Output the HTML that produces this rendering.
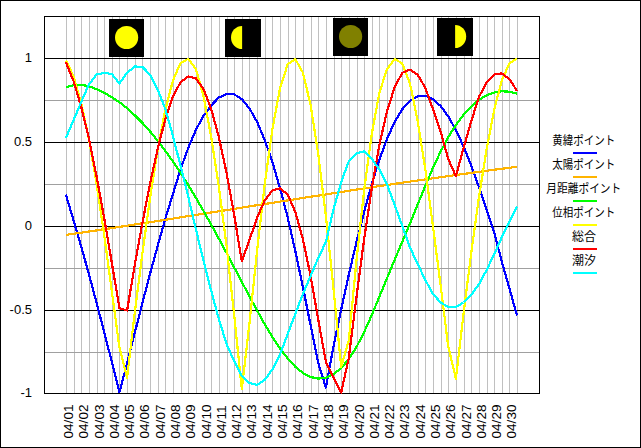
<!DOCTYPE html>
<html><head><meta charset="utf-8"><title>chart</title>
<style>html,body{margin:0;padding:0;background:#fff;}svg{display:block;}</style></head>
<body>
<svg width="641" height="448" viewBox="0 0 641 448">
<rect x="0" y="0" width="641" height="448" fill="#fff"/>
<path d="M66.5 17V393M74.5 17V393M81.5 17V393M89.5 17V393M97.5 17V393M104.5 17V393M112.5 17V393M119.5 17V393M127.5 17V393M135.5 17V393M142.5 17V393M150.5 17V393M158.5 17V393M165.5 17V393M173.5 17V393M181.5 17V393M188.5 17V393M196.5 17V393M204.5 17V393M211.5 17V393M219.5 17V393M227.5 17V393M234.5 17V393M242.5 17V393M249.5 17V393M257.5 17V393M265.5 17V393M272.5 17V393M280.5 17V393M288.5 17V393M295.5 17V393M303.5 17V393M311.5 17V393M318.5 17V393M326.5 17V393M334.5 17V393M341.5 17V393M349.5 17V393M357.5 17V393M364.5 17V393M372.5 17V393M379.5 17V393M387.5 17V393M395.5 17V393M402.5 17V393M410.5 17V393M418.5 17V393M425.5 17V393M433.5 17V393M441.5 17V393M448.5 17V393M456.5 17V393M464.5 17V393M471.5 17V393M479.5 17V393M487.5 17V393M494.5 17V393M502.5 17V393M509.5 17V393M517.5 17V393" stroke="#c0c0c0" stroke-width="1" fill="none" shape-rendering="crispEdges"/>
<path d="M45 100.5H539M45 184.5H539M45 268.5H539M45 352.5H539" stroke="#a0a0a0" stroke-width="1" fill="none" shape-rendering="crispEdges"/>
<path d="M45 58.5H539M45 142.5H539M45 226.5H539M45 310.5H539" stroke="#000" stroke-width="1" fill="none" shape-rendering="crispEdges"/>
<rect x="44.5" y="16.5" width="495" height="377" fill="none" stroke="#000" stroke-width="1" shape-rendering="crispEdges"/>
<rect x="109" y="19" width="35" height="38" fill="#000" shape-rendering="crispEdges"/><circle cx="126.6" cy="37.5" r="11.6" fill="#ffff00"/>
<rect x="225" y="19" width="36" height="38" fill="#000" shape-rendering="crispEdges"/><path d="M242.1 25.9A11.1 11.6 0 0 0 242.1 49.1Z" fill="#ffff00"/>
<rect x="333" y="18" width="35" height="38" fill="#000" shape-rendering="crispEdges"/><circle cx="350.6" cy="36.5" r="11.6" fill="#808000"/>
<rect x="437" y="18" width="36" height="38" fill="#000" shape-rendering="crispEdges"/><path d="M455.1 24.9A11.1 11.6 0 0 1 455.1 48.1Z" fill="#ffff00"/>
<polyline points="65.9,194.6 73.6,220.6 81.2,246.6 88.9,274.0 96.5,302.5 104.1,331.8 111.8,361.9 119.4,392.3 127.1,363.5 134.7,333.1 142.4,303.1 150.0,273.9 157.7,245.7 165.3,218.8 173.0,193.7 180.6,169.0 188.3,147.8 195.9,129.8 203.5,115.9 211.2,105.4 218.8,97.6 226.5,93.9 234.1,94.3 241.8,99.1 249.4,108.3 257.1,121.9 264.7,139.9 272.4,162.1 280.0,188.1 287.7,217.5 295.3,251.0 302.9,287.0 310.6,325.3 318.2,362.8 325.9,387.5 333.5,346.3 341.2,309.5 348.8,274.7 356.5,242.0 364.1,212.0 371.8,184.0 379.4,159.5 387.1,138.7 394.7,121.9 402.3,109.2 410.0,100.7 417.6,96.2 425.3,95.7 432.9,99.0 440.6,106.0 448.2,116.4 455.9,129.9 463.5,146.4 471.2,165.4 478.8,186.8 486.4,209.1 494.1,232.3 501.7,261.2 509.4,288.3 517.0,315.6" fill="none" stroke="#0000ff" stroke-width="2.2" stroke-linejoin="round" stroke-linecap="butt" shape-rendering="crispEdges"/>
<polyline points="65.9,234.9 73.6,233.8 81.2,232.7 88.9,231.5 96.5,230.4 104.1,229.2 111.8,228.1 119.4,226.9 127.1,225.7 134.7,224.5 142.4,223.3 150.0,222.2 157.7,221.0 165.3,219.8 173.0,218.6 180.6,217.3 188.3,216.1 195.9,214.9 203.5,213.7 211.2,212.5 218.8,211.3 226.5,210.1 234.1,208.9 241.8,207.6 249.4,206.4 257.1,205.2 264.7,204.0 272.4,202.8 280.0,201.6 287.7,200.4 295.3,199.2 302.9,197.9 310.6,196.7 318.2,195.6 325.9,194.4 333.5,193.2 341.2,192.0 348.8,190.8 356.5,189.6 364.1,188.5 371.8,187.3 379.4,186.1 387.1,185.0 394.7,183.9 402.3,182.7 410.0,181.6 417.6,180.5 425.3,179.4 432.9,178.3 440.6,177.2 448.2,176.1 455.9,175.0 463.5,174.0 471.2,172.9 478.8,171.9 486.4,170.8 494.1,169.8 501.7,168.8 509.4,167.8 517.0,166.8" fill="none" stroke="#ffb400" stroke-width="2.2" stroke-linejoin="round" stroke-linecap="butt" shape-rendering="crispEdges"/>
<polyline points="65.9,87.2 73.6,85.2 81.2,84.7 88.9,86.3 96.5,89.1 104.1,92.8 111.8,97.1 119.4,102.2 127.1,108.3 134.7,115.2 142.4,122.9 150.0,131.4 157.7,140.7 165.3,150.8 173.0,161.5 180.6,173.0 188.3,185.1 195.9,197.8 203.5,211.0 211.2,224.7 218.8,238.6 226.5,252.9 234.1,267.3 241.8,281.8 249.4,296.3 257.1,310.5 264.7,324.2 272.4,336.9 280.0,348.5 287.7,358.5 295.3,366.8 302.9,373.0 310.6,377.0 318.2,378.6 325.9,377.7 333.5,374.3 341.2,368.1 348.8,359.0 356.5,347.0 364.1,332.1 371.8,315.0 379.4,296.6 387.1,278.0 394.7,259.7 402.3,241.6 410.0,223.4 417.6,204.6 425.3,185.9 432.9,168.0 440.6,151.6 448.2,137.2 455.9,125.0 463.5,114.7 471.2,106.4 478.8,100.0 486.4,95.3 494.1,92.5 501.7,91.3 509.4,91.7 517.0,93.7" fill="none" stroke="#00ff00" stroke-width="2.2" stroke-linejoin="round" stroke-linecap="butt" shape-rendering="crispEdges"/>
<polyline points="65.9,60.4 73.6,76.3 81.2,103.2 88.9,138.8 96.5,183.0 104.1,234.4 111.8,291.1 119.4,347.5 127.1,377.6 134.7,313.1 142.4,253.5 150.0,198.3 157.7,149.7 165.3,109.7 173.0,80.3 180.6,62.9 188.3,58.8 195.9,68.9 203.5,96.2 211.2,137.0 218.8,186.5 226.5,245.3 234.1,314.3 241.8,389.2 249.4,323.8 257.1,250.6 264.7,184.4 272.4,129.2 280.0,88.3 287.7,64.3 295.3,59.0 302.9,72.7 310.6,104.9 318.2,153.7 325.9,216.2 333.5,288.6 341.2,366.7 348.8,340.2 356.5,260.4 364.1,190.2 371.8,133.9 379.4,92.5 387.1,69.0 394.7,58.9 402.3,63.5 410.0,83.6 417.6,120.5 425.3,169.1 432.9,225.8 440.6,285.1 448.2,346.2 455.9,378.7 463.5,314.0 471.2,253.2 478.8,198.1 486.4,150.5 494.1,110.2 501.7,80.8 509.4,63.4 517.0,58.5" fill="none" stroke="#ffff00" stroke-width="2.2" stroke-linejoin="round" stroke-linecap="butt" shape-rendering="crispEdges"/>
<polyline points="65.9,62.3 73.6,81.2 81.2,106.8 88.9,138.6 96.5,175.9 104.1,217.6 111.8,262.6 119.4,308.0 127.1,310.5 134.7,265.3 142.4,223.0 150.0,183.7 157.7,148.7 165.3,119.2 173.0,96.5 180.6,82.1 188.3,76.5 195.9,78.4 203.5,89.0 211.2,109.0 218.8,137.0 226.5,172.6 234.1,214.6 241.8,261.2 249.4,240.2 257.1,217.6 264.7,200.5 272.4,190.3 280.0,188.4 287.7,194.6 295.3,212.0 302.9,239.3 310.6,276.0 318.2,319.4 325.9,361.9 333.5,377.5 341.2,392.5 348.8,357.8 356.5,296.8 364.1,239.4 371.8,188.2 379.4,144.8 387.1,110.9 394.7,87.1 402.3,72.8 410.0,69.6 417.6,74.6 425.3,87.8 432.9,109.0 440.6,131.7 448.2,158.9 455.9,176.2 463.5,148.3 471.2,121.5 478.8,97.3 486.4,82.8 494.1,74.6 501.7,73.4 509.4,79.0 517.0,90.9" fill="none" stroke="#ff0000" stroke-width="2.2" stroke-linejoin="round" stroke-linecap="butt" shape-rendering="crispEdges"/>
<polyline points="65.9,137.8 73.6,120.0 81.2,102.0 88.9,84.5 96.5,74.6 104.1,72.8 111.8,74.0 119.4,83.4 127.1,72.8 134.7,66.5 142.4,66.9 150.0,74.6 157.7,89.6 165.3,109.0 173.0,136.2 180.6,166.2 188.3,196.9 195.9,229.5 203.5,260.1 211.2,290.8 218.8,319.0 226.5,343.8 234.1,361.2 241.8,375.6 249.4,383.1 257.1,384.8 264.7,380.0 272.4,369.4 280.0,354.4 287.7,334.0 295.3,314.0 302.9,294.0 310.6,276.0 318.2,258.0 325.9,242.0 333.5,209.4 341.2,182.0 348.8,161.2 356.5,153.1 364.1,151.5 371.8,158.8 379.4,169.6 387.1,184.6 394.7,205.0 402.3,226.0 410.0,247.5 417.6,263.8 425.3,280.0 432.9,293.8 440.6,302.5 448.2,307.0 455.9,307.0 463.5,302.5 471.2,294.8 478.8,284.5 486.4,270.5 494.1,254.5 501.7,237.5 509.4,221.5 517.0,206.4" fill="none" stroke="#00ffff" stroke-width="2.2" stroke-linejoin="round" stroke-linecap="butt" shape-rendering="crispEdges"/>
<g fill="#000" font-family="&quot;Liberation Sans&quot;, sans-serif" font-size="13" text-anchor="end">
<text x="32" y="62">1</text>
<text x="32" y="146">0.5</text>
<text x="32" y="230">0</text>
<text x="32" y="314">-0.5</text>
<text x="32" y="397">-1</text>
</g>
<g fill="#000" font-family="&quot;Liberation Sans&quot;, sans-serif" font-size="13.6">
<text transform="translate(72.97,438.5) rotate(-90)">04/01</text>
<text transform="translate(88.26,438.5) rotate(-90)">04/02</text>
<text transform="translate(103.55,438.5) rotate(-90)">04/03</text>
<text transform="translate(118.85,438.5) rotate(-90)">04/04</text>
<text transform="translate(134.14,438.5) rotate(-90)">04/05</text>
<text transform="translate(149.43,438.5) rotate(-90)">04/06</text>
<text transform="translate(164.72,438.5) rotate(-90)">04/07</text>
<text transform="translate(180.01,438.5) rotate(-90)">04/08</text>
<text transform="translate(195.31,438.5) rotate(-90)">04/09</text>
<text transform="translate(210.60,438.5) rotate(-90)">04/10</text>
<text transform="translate(225.89,438.5) rotate(-90)">04/11</text>
<text transform="translate(241.18,438.5) rotate(-90)">04/12</text>
<text transform="translate(256.47,438.5) rotate(-90)">04/13</text>
<text transform="translate(271.77,438.5) rotate(-90)">04/14</text>
<text transform="translate(287.06,438.5) rotate(-90)">04/15</text>
<text transform="translate(302.35,438.5) rotate(-90)">04/16</text>
<text transform="translate(317.64,438.5) rotate(-90)">04/17</text>
<text transform="translate(332.93,438.5) rotate(-90)">04/18</text>
<text transform="translate(348.23,438.5) rotate(-90)">04/19</text>
<text transform="translate(363.52,438.5) rotate(-90)">04/20</text>
<text transform="translate(378.81,438.5) rotate(-90)">04/21</text>
<text transform="translate(394.10,438.5) rotate(-90)">04/22</text>
<text transform="translate(409.39,438.5) rotate(-90)">04/23</text>
<text transform="translate(424.69,438.5) rotate(-90)">04/24</text>
<text transform="translate(439.98,438.5) rotate(-90)">04/25</text>
<text transform="translate(455.27,438.5) rotate(-90)">04/26</text>
<text transform="translate(470.56,438.5) rotate(-90)">04/27</text>
<text transform="translate(485.85,438.5) rotate(-90)">04/28</text>
<text transform="translate(501.15,438.5) rotate(-90)">04/29</text>
<text transform="translate(516.44,438.5) rotate(-90)">04/30</text>
</g>
<g fill="#000" font-family="&quot;Liberation Sans&quot;, &quot;Noto Sans CJK JP&quot;, sans-serif" font-size="12">
<text x="552.3" y="145.4" textLength="63" lengthAdjust="spacingAndGlyphs">黄緯ポイント</text>
<text x="552.3" y="169.4" textLength="63" lengthAdjust="spacingAndGlyphs">太陽ポイント</text>
<text x="546.3" y="193.4" textLength="75" lengthAdjust="spacingAndGlyphs">月距離ポイント</text>
<text x="552.3" y="217.4" textLength="63" lengthAdjust="spacingAndGlyphs">位相ポイント</text>
<text x="572" y="241.4">総合</text>
<text x="572" y="265.4">潮汐</text>
</g>
<rect x="573" y="152" width="24" height="2" fill="#0000ff" shape-rendering="crispEdges"/>
<rect x="573" y="176" width="24" height="2" fill="#ffb400" shape-rendering="crispEdges"/>
<rect x="573" y="200" width="24" height="2" fill="#00ff00" shape-rendering="crispEdges"/>
<rect x="573" y="224" width="24" height="2" fill="#ffff00" shape-rendering="crispEdges"/>
<rect x="573" y="248" width="24" height="2" fill="#ff0000" shape-rendering="crispEdges"/>
<rect x="573" y="272" width="24" height="2" fill="#00ffff" shape-rendering="crispEdges"/>
<rect x="0.5" y="0.5" width="640" height="447" fill="none" stroke="#000" stroke-width="1" shape-rendering="crispEdges"/>
</svg>
</body></html>
